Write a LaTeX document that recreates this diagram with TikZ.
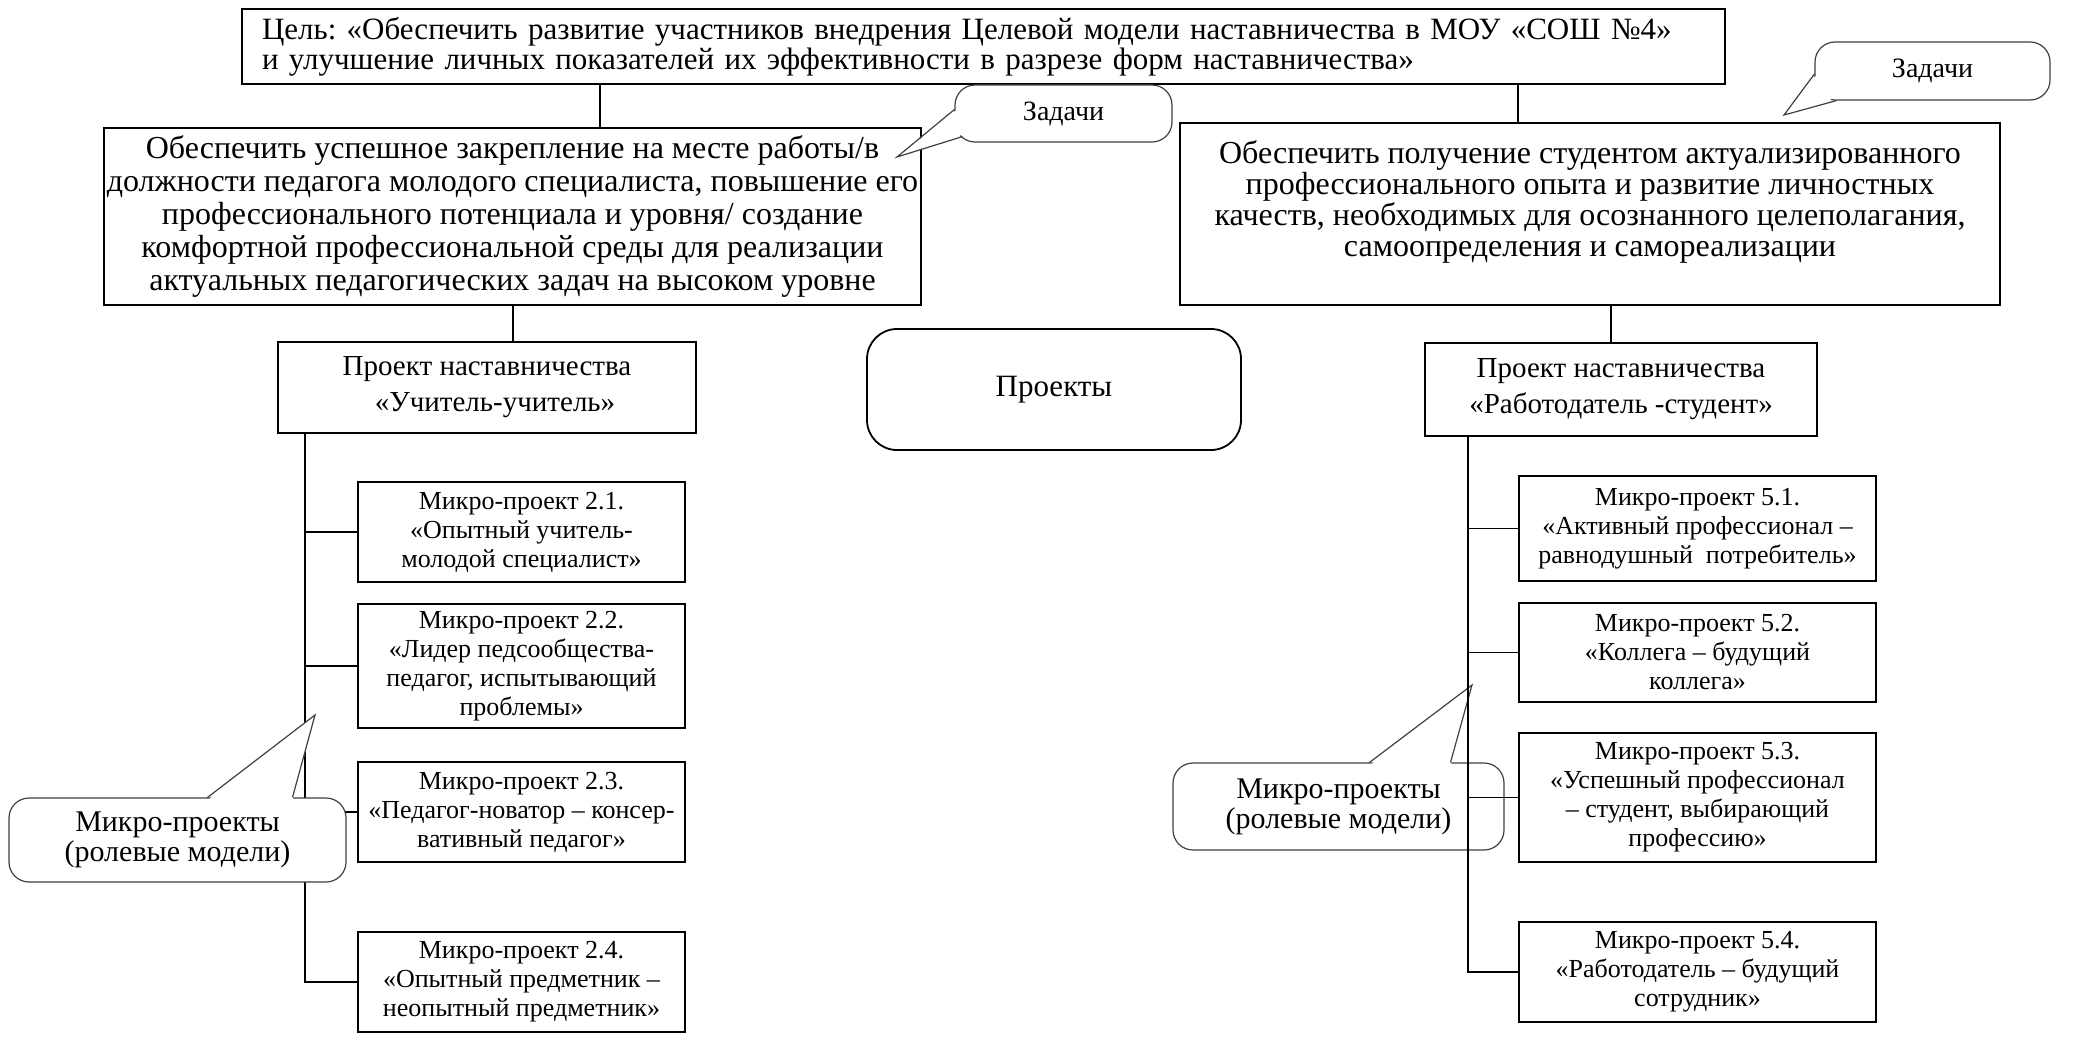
\documentclass[tikz,border=0pt]{standalone}
\usepackage{fontspec}
\setmainfont{Liberation Serif}
\usetikzlibrary{calc}
\frenchspacing

\begin{document}
\begin{tikzpicture}[x=0.5pt,y=-0.5pt,
        box/.style={draw,line width=0.9pt,align=center,inner sep=0pt},
        goalbox/.style={box,font=\fontsize{15.5}{15}\selectfont},
        taskbox/.style={box,font=\fontsize{16}{16.5}\selectfont},
        projbox/.style={box,font=\fontsize{14.5}{18}\selectfont},
        microbox/.style={box,font=\fontsize{13}{14.5}\selectfont},
        bubble/.style={draw=black!75,line width=0.6pt,fill=white,rounded corners=10pt,align=center,inner sep=0pt},
        tailline/.style={draw=black!75,line width=0.6pt},
        link/.style={line width=0.6pt}]
                \useasboundingbox (0,0) rectangle (2075,1038);

                \node[goalbox,align=left,text width=721.5pt,inner xsep=10pt,minimum height=37.5pt] (goal) at (983.5,46.5)
                    {Цель: «Обеспечить развитие участников внедрения Целевой модели наставничества в МОУ «СОШ №4»\\
                     и улучшение личных показателей их эффективности в разрезе форм наставничества»};
                \node[taskbox,minimum width=408.5pt,minimum height=88.5pt] (taskl) at (512.5,216.5)
                    {Обеспечить успешное закрепление на месте работы/в\\
                     должности педагога молодого специалиста, повышение его\\
                     профессионального потенциала и уровня/ создание\\
                     комфортной профессиональной среды для реализации\\
                     актуальных педагогических задач на высоком уровне};
                \node[taskbox,font=\fontsize{16}{15.5}\selectfont,minimum width=410pt,minimum height=91pt] (taskr) at (1590,214)
                    {Обеспечить получение студентом актуализированного\\
                     профессионального опыта и развитие личностных\\
                     качеств, необходимых для осознанного целеполагания,\\
                     самоопределения и самореализации\\ \mbox{}};
                \node[projbox,minimum width=209pt,minimum height=45.5pt] (projl) at (487,387.5)
                    {Проект наставничества\\ \hspace{8pt}«Учитель-учитель»};
                \node[projbox,minimum width=196pt,minimum height=46.5pt] (projr) at (1621,389.5)
                    {Проект наставничества\\ «Работодатель -студент»};
                \node[box,rounded corners=15pt,minimum width=187pt,minimum height=60.5pt,font=\fontsize{15.5}{16}\selectfont] (proj) at (1054,389.5) {Проекты};

                \node[microbox,minimum width=163.5pt,minimum height=50pt] (m21) at (521.5,532)
                    {Микро-проект 2.1.\\ «Опытный учитель-\\ молодой специалист»};
                \node[microbox,minimum width=163.5pt,minimum height=62pt] (m22) at (521.5,666)
                    {Микро-проект 2.2.\\ «Лидер педсообщества-\\ педагог, испытывающий\\ проблемы»};
                \node[microbox,minimum width=163.5pt,minimum height=50pt] (m23) at (521.5,812)
                    {Микро-проект 2.3.\\ «Педагог-новатор – консер-\\ вативный педагог»};
                \node[microbox,minimum width=163.5pt,minimum height=50pt] (m24) at (521.5,982)
                    {Микро-проект 2.4.\\ «Опытный предметник –\\ неопытный предметник»};

                \node[microbox,minimum width=178.5pt,minimum height=52.5pt] (m51) at (1697.5,528.5)
                    {Микро-проект 5.1.\\ «Активный профессионал –\\ равнодушный \ потребитель»};
                \node[microbox,minimum width=178.5pt,minimum height=49.5pt] (m52) at (1697.5,652.5)
                    {Микро-проект 5.2.\\ «Коллега – будущий\\ коллега»};
                \node[microbox,minimum width=178.5pt,minimum height=64.5pt] (m53) at (1697.5,797.5)
                    {Микро-проект 5.3.\\ «Успешный профессионал\\ – студент, выбирающий\\ профессию»};
                \node[microbox,minimum width=178.5pt,minimum height=50pt] (m54) at (1697.5,972)
                    {Микро-проект 5.4.\\ «Работодатель – будущий\\ сотрудник»};

                \node[bubble,minimum width=165.5pt,minimum height=43.5pt,font=\fontsize{15}{15}\selectfont] (bm2) at (1338.5,806.5)
                    {Микро-проекты\\(ролевые модели)};
                \coordinate (tipm2) at (1472,685);
                \fill[white] ($(bm2.north)+(31,3)$) -- (tipm2) -- ($(bm2.north)+(112,3)$) -- cycle;
                \draw[tailline] ($(bm2.north)+(31,0)$) -- (tipm2) -- ($(bm2.north)+(112,0)$);

                \coordinate (cl) at (600,0);
                \coordinate (cr) at (1518,0);
                \coordinate (pl) at (513,0);
                \coordinate (pr) at (1611,0);
                \coordinate (tl) at (305,0);
                \coordinate (tr) at (1468,0);
                \draw[link] (goal.south -| cl) -- (taskl.north -| cl);
                \draw[link] (goal.south -| cr) -- (taskr.north -| cr);
                \draw[link] (taskl.south -| pl) -- (projl.north -| pl);
                \draw[link] (taskr.south -| pr) -- (projr.north -| pr);
                \draw[link] (projl.south -| tl) |- (m24.west);
                \draw[link] (projr.south -| tr) |- (m54.west);
                \foreach \Box in {m21,m22,m23}
                \draw[link] (\Box.west -| tl) -- (\Box.west);
                \foreach \Box in {m51,m52,m53}
                \draw[link] (\Box.west -| tr) -- (\Box.west);

                \node[bubble,minimum width=168.5pt,minimum height=42pt,font=\fontsize{15}{15}\selectfont] (bm1) at (177.5,840)
                    {Микро-проекты\\(ролевые модели)};
                \coordinate (tipm1) at (315,715);
                \fill[white] ($(bm1.north)+(30,3)$) -- (tipm1) -- ($(bm1.north)+(115,3)$) -- cycle;
                \draw[tailline] ($(bm1.north)+(30,0)$) -- (tipm1) -- ($(bm1.north)+(115,0)$);

                \node[bubble,minimum width=108.5pt,minimum height=28.5pt,font=\fontsize{14}{14}\selectfont] (bz1) at (1063.5,113.5) {Задачи};
                \coordinate (tipz1) at (897,157);
                \fill[white] ($(bz1.west)+(3,-4)$) -- (tipz1) -- ($(bz1.south west)+(11,-9)$) -- cycle;
                \draw[tailline] ($(bz1.west)+(0,-4)$) -- (tipz1) -- ($(bz1.south west)+(8,-6)$);

                \node[bubble,minimum width=117.5pt,minimum height=29pt,font=\fontsize{14}{14}\selectfont] (bz2) at (1932.5,71) {Задачи};
                \coordinate (tipz2) at (1784,115);
                \fill[white] ($(bz2.west)+(3,3)$) -- (tipz2) -- ($(bz2.south west)+(22,-3)$) -- cycle;
                \draw[tailline] ($(bz2.west)+(0,3)$) -- (tipz2) -- ($(bz2.south west)+(22,0)$);
            \end{tikzpicture}
\end{document}
